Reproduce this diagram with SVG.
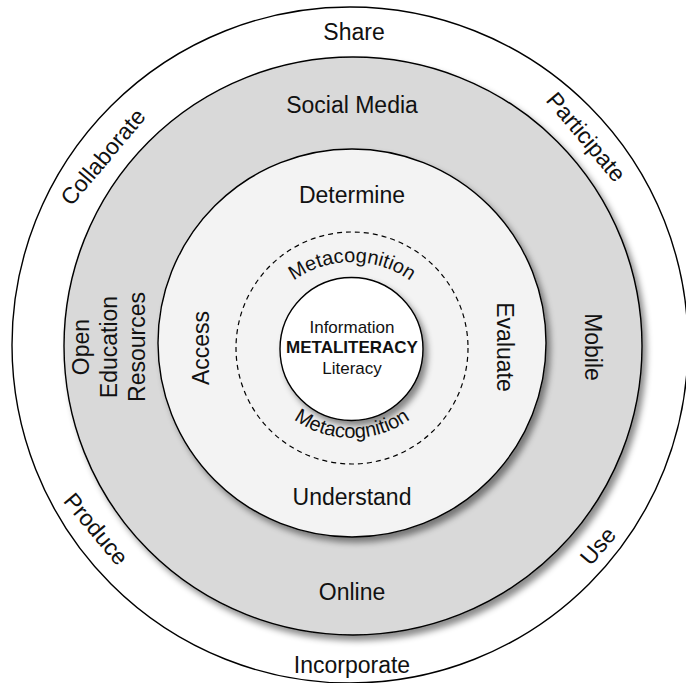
<svg xmlns="http://www.w3.org/2000/svg" width="686" height="683" viewBox="0 0 686 683">
  <style>
    .ring { stroke: #000; stroke-width: 1.4; }
    .lbl { font-family: "Liberation Sans", Arial, sans-serif; font-size: 23px; fill: #111; text-anchor: middle; }
    .core { font-family: "Liberation Sans", Arial, sans-serif; font-size: 17px; fill: #111; text-anchor: middle; }
    .meta { font-family: "Liberation Sans", Arial, sans-serif; font-size: 20px; fill: #111; }
  </style>
  <defs>
    <filter id="shadow" x="-10%" y="-10%" width="125%" height="125%">
      <feDropShadow dx="4" dy="5" stdDeviation="3" flood-color="#000" flood-opacity="0.45"/>
    </filter>
    <path id="metaTop" d="M 252 362 A 100 100 0 0 1 452 362"/>
    <path id="metaBottom" d="M 252 338 A 100 100 0 0 0 452 338"/>
  </defs>
  <rect width="686" height="683" fill="#fff"/>

  <!-- outer ring: participation verbs -->
  <g id="outer-ring">
    <circle class="ring" cx="350" cy="345" r="338" fill="#fff"/>
    <text class="lbl" x="354" y="40">Share</text>
    <text class="lbl" x="352" y="673">Incorporate</text>
    <text class="lbl" transform="translate(109,162) rotate(-50)">Collaborate</text>
    <text class="lbl" transform="translate(580,142) rotate(50)">Participate</text>
    <text class="lbl" transform="translate(90,534) rotate(50)">Produce</text>
    <text class="lbl" transform="translate(604,551) rotate(-50)">Use</text>
  </g>

  <!-- media ring -->
  <g id="media-ring">
    <circle class="ring" cx="353" cy="346" r="289" fill="#d9d9d9" filter="url(#shadow)"/>
    <text class="lbl" x="352" y="113">Social Media</text>
    <text class="lbl" x="352" y="600">Online</text>
    <text class="lbl" transform="translate(585,347) rotate(90)">Mobile</text>
    <g transform="translate(0,347) rotate(-90)">
      <text class="lbl" x="0" y="89">Open</text>
      <text class="lbl" x="0" y="117">Education</text>
      <text class="lbl" x="0" y="145">Resources</text>
    </g>
  </g>

  <!-- skills ring -->
  <g id="skills-ring">
    <circle class="ring" cx="352" cy="343" r="194" fill="#f3f3f3" filter="url(#shadow)"/>
    <text class="lbl" x="352" y="203">Determine</text>
    <text class="lbl" x="352" y="505">Understand</text>
    <text class="lbl" transform="translate(497,347) rotate(90)">Evaluate</text>
    <text class="lbl" transform="translate(209,348) rotate(-90)">Access</text>
  </g>

  <!-- metacognition boundary -->
  <g id="metacognition">
    <circle cx="352" cy="348" r="116" fill="none" stroke="#000" stroke-width="1.2" stroke-dasharray="5 4"/>
    <text class="meta"><textPath href="#metaTop" startOffset="50%" text-anchor="middle">Metacognition</textPath></text>
    <text class="meta"><textPath href="#metaBottom" startOffset="50%" text-anchor="middle">Metacognition</textPath></text>
  </g>

  <!-- core -->
  <g id="core">
    <circle class="ring" cx="351.5" cy="349" r="71.5" fill="#fff" filter="url(#shadow)"/>
    <text class="core" x="352" y="333">Information</text>
    <text class="core" x="352" y="353" font-weight="bold">METALITERACY</text>
    <text class="core" x="352" y="374">Literacy</text>
  </g>
</svg>
